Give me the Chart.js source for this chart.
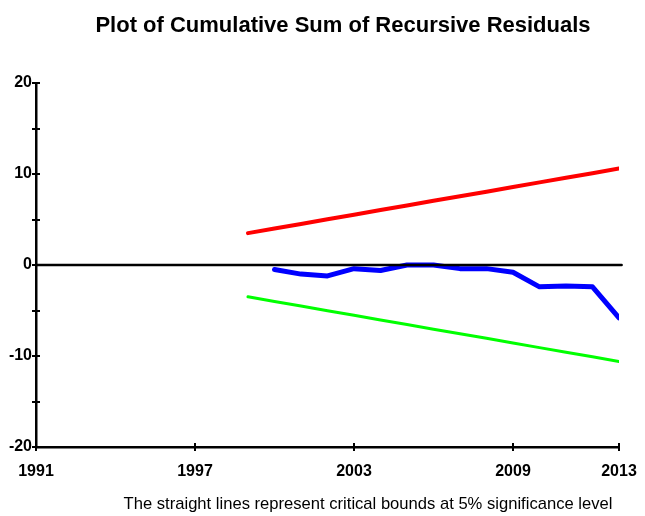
<!DOCTYPE html>
<html>
<head>
<meta charset="utf-8">
<script src="https://cdn.jsdelivr.net/npm/chart.js@4/dist/chart.umd.min.js"></script>
<style>
html,body{margin:0;padding:0;background:#fff;}
#wrap{width:645px;height:516px;position:relative;}
</style>
</head>
<body>
<div id="wrap"><canvas id="c" width="645" height="516"></canvas></div>
<script>
const titleText = 'Plot of Cumulative Sum of Recursive Residuals';
const noteText = 'The straight lines represent critical bounds at 5% significance level';
const xTickYears = [1991, 1997, 2003, 2009, 2013];
const yTickValues = [-20, -15, -10, -5, 0, 5, 10, 15, 20];
const boundYears = [1999, 2000, 2001, 2002, 2003, 2004, 2005, 2006, 2007, 2008, 2009, 2010, 2011, 2012, 2013];
const upperBound = [3.50, 4.01, 4.51, 5.02, 5.53, 6.04, 6.54, 7.05, 7.56, 8.06, 8.57, 9.08, 9.59, 10.09, 10.60];
const lowerBound = [-3.50, -4.01, -4.51, -5.02, -5.53, -6.04, -6.54, -7.05, -7.56, -8.06, -8.57, -9.08, -9.59, -10.09, -10.60];
const cusumYears = [2000, 2001, 2002, 2003, 2004, 2005, 2006, 2007, 2008, 2009, 2010, 2011, 2012, 2013];
const cusumValues = [-0.5, -1.0, -1.2, -0.4, -0.6, 0.0, 0.0, -0.4, -0.4, -0.8, -2.4, -2.3, -2.4, -5.8];
const zeroYears = [1991, 2013.1];
const zeroValues = [0, 0];

const pts = (xs, ys) => xs.map((x, i) => ({x: x, y: ys[i]}));

const FONT = '"Liberation Sans", Arial, sans-serif';

const decor = {
  id: 'decor',
  afterDatasetsDraw(chart) {
    const ctx = chart.ctx;
    const xs = chart.scales.x, ys = chart.scales.y;
    const ax = xs.left, ay = ys.bottom;
    ctx.save();
    ctx.strokeStyle = '#000';
    ctx.lineWidth = 2;
    yTickValues.forEach(v => {
      const py = Math.round(ys.getPixelForValue(v));
      ctx.beginPath();
      ctx.moveTo(ax - 4, py);
      ctx.lineTo(ax + 4, py);
      ctx.stroke();
    });
    xTickYears.forEach(v => {
      const px = Math.round(xs.getPixelForValue(v));
      ctx.beginPath();
      ctx.moveTo(px, ay - 4);
      ctx.lineTo(px, ay + 4);
      ctx.stroke();
    });
    ctx.restore();
  },
  afterDraw(chart) {
    const ctx = chart.ctx;
    ctx.save();
    ctx.fillStyle = '#000';
    ctx.textAlign = 'center';
    ctx.textBaseline = 'alphabetic';
    ctx.font = 'bold 22px ' + FONT;
    ctx.fillText(titleText, 343, 32);
    ctx.font = '16.6px ' + FONT;
    ctx.fillText(noteText, 368, 509);
    ctx.restore();
  }
};

new Chart(document.getElementById('c'), {
  type: 'line',
  data: {
    datasets: [
      {data: pts(zeroYears, zeroValues), borderColor: '#000000', borderWidth: 2.5, pointRadius: 0, order: 0, clip: false},
      {data: pts(cusumYears, cusumValues), borderColor: '#0000ff', borderWidth: 5, pointRadius: 0, order: 1},
      {data: pts(boundYears, upperBound), borderColor: '#ff0000', borderWidth: 4, pointRadius: 0, order: 2},
      {data: pts(boundYears, lowerBound), borderColor: '#00ff00', borderWidth: 3, pointRadius: 0, order: 2}
    ]
  },
  options: {
    responsive: false,
    animation: false,
    events: [],
    layout: {padding: {top: 83, left: 0, right: 26, bottom: 0}},
    plugins: {legend: {display: false}, tooltip: {enabled: false}, title: {display: false}},
    elements: {line: {tension: 0, borderCapStyle: 'round', borderJoinStyle: 'round'}},
    scales: {
      x: {
        type: 'linear', min: 1991, max: 2013,
        afterFit: s => { s.height = 69; s.paddingLeft = 0; s.paddingRight = 0; },
        afterBuildTicks: s => { s.ticks = xTickYears.map(v => ({value: v})); },
        grid: {display: true, drawOnChartArea: false, drawTicks: false},
        border: {display: true, color: '#000', width: 2.5},
        ticks: {color: '#000', padding: 15, maxRotation: 0, autoSkip: false,
          font: {family: FONT, size: 16, weight: 'bold'},
          callback: v => String(v)}
      },
      y: {
        type: 'linear', min: -20, max: 20,
        afterFit: s => { s.width = 36; s.paddingTop = 0; s.paddingBottom = 0; },
        afterBuildTicks: s => { s.ticks = yTickValues.map(v => ({value: v})); },
        grid: {display: true, drawOnChartArea: false, drawTicks: false},
        border: {display: true, color: '#000', width: 2.5},
        ticks: {color: '#000', padding: 4, autoSkip: false,
          font: {family: FONT, size: 16, weight: 'bold'},
          callback: v => (v % 10 === 0 ? String(v) : '')}
      }
    }
  },
  plugins: [decor]
});
</script>
</body>
</html>
